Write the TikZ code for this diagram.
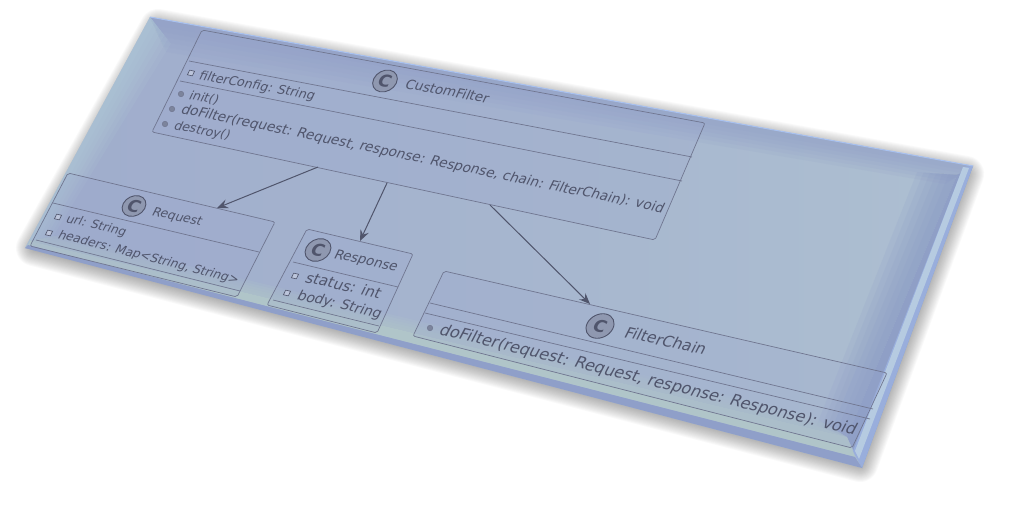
\documentclass[tikz,border=0pt]{standalone}
\usepackage{fontspec}
\setmainfont{DejaVu Sans}
\usetikzlibrary{
    arrows.meta,
    calc
}

\definecolor{faceLeft}{HTML}{9FACCC}
\definecolor{faceRight}{HTML}{ADBFD1}
\definecolor{bevelTop}{HTML}{909EC8}
\definecolor{bevelLeft}{HTML}{B8D6DE}
\definecolor{bevelRight}{HTML}{8595C3}
\definecolor{bevelBlue}{HTML}{8F9FC9}
\definecolor{bevelPale}{HTML}{B0C5C9}
\definecolor{stripLight}{HTML}{B6CBE1}
\definecolor{edgeLight}{HTML}{A9C2F0}
\definecolor{boxTint}{HTML}{98A4CE}
\definecolor{umlLine}{HTML}{707690}
\definecolor{umlInk}{HTML}{50556C}
\definecolor{umlMark}{HTML}{8F98B0}

\tikzset{
    classbox/.style={draw=umlLine, line width=0.7pt, rounded corners=2pt, fill=boxTint, fill opacity=0.2},
    divider/.style={draw=umlLine, line width=0.7pt},
    depends/.style={draw=umlInk, line width=1pt, -{Stealth[length=11pt, width=9pt, inset=4pt]}},
    umltext/.style 2 args={anchor=base west, inner sep=0pt, rotate=-#1, xslant=0.25, text=umlInk,
        font=\fontsize{#2}{#2}\selectfont},
    classmark/.style 2 args={circle, draw=umlInk, line width=0.9pt, fill=umlMark, inner sep=0pt,
        minimum size=#2, rotate=-#1, xslant=0.25, text=umlInk, font=\bfseries\fontsize{17}{17}\selectfont},
    attrmark/.style={rectangle, draw=umlInk, line width=0.6pt, fill=faceLeft!70!white, inner sep=0pt,
        minimum size=5pt, rotate=-12, xslant=0.25},
    methodmark/.style={circle, draw=umlLine, line width=0.5pt, fill=umlMark!70!umlInk, inner sep=0pt, minimum size=5.5pt}
}

\begin{document}
\begin{tikzpicture}[x=1pt,y=-1pt]
\useasboundingbox (0,0) rectangle (1009,505);

% Plate corners
\coordinate (plateTL) at (150,17);
\coordinate (plateTR) at (973,166);
\coordinate (plateBR) at (862,468);
\coordinate (plateBL) at (25,248);

% Soft shadow
\foreach \w in {2,4,...,36}
    \draw[black!85, opacity=0.026, line width=\w pt, line join=round, fill]
        (158,27) -- (966,174) -- (860,464) -- (34,248) -- cycle;

% Plate face
\shade[left color=faceLeft, right color=faceRight]
    (plateTL) -- (plateTR) -- (plateBR) -- (plateBL) -- cycle;

% Top bevel
\coordinate (topA) at (166,52);
\coordinate (topB) at (945,184);
\foreach \t in {0.25,0.4,...,1}
    \fill[bevelTop, opacity=0.13]
        (plateTL) -- (plateTR) -- ($(plateTR)!\t!(topB)$) -- ($(plateTL)!\t!(topA)$) -- cycle;

% Left bevel
\coordinate (leftA) at (172,45);
\coordinate (leftB) at (52,240);
\foreach \t in {0.2,0.35,...,1}
    \fill[bevelLeft, opacity=0.1]
        (plateTL) -- (plateBL) -- ($(plateBL)!\t!(leftB)$) -- ($(plateTL)!\t!(leftA)$) -- cycle;

% Right bevel
\coordinate (rightA) at (915,172);
\coordinate (rightB) at (815,425);
\coordinate (rightC) at (957,175);
\coordinate (rightD) at (847,437);
\foreach \t in {0.2,0.35,...,1}
    \fill[bevelRight, opacity=0.13]
        (rightC) -- (rightD) -- ($(rightD)!\t!(rightB)$) -- ($(rightC)!\t!(rightA)$) -- cycle;
\fill[bevelRight!75!faceRight] (rightC) -- (plateTR) -- (plateBR) -- (rightD) -- cycle;
\fill[edgeLight!55!bevelRight] (963,167) -- (973,166) -- (862,468) -- (853,451) -- cycle;
\fill[stripLight] (963,167) -- (969,168) -- (859,459) -- (855,451) -- cycle;

% Bottom bevel
\coordinate (bottomA) at (30,241);
\coordinate (bottomB) at (847,437);
\foreach \t in {0.2,0.4,...,1}
    \fill[bevelPale, opacity=0.2]
        (bottomA) -- (bottomB) -- ($(bottomB)!\t!(810,415)$) -- ($(bottomA)!\t!(60,235)$) -- cycle;
\fill[bevelPale] (bottomA) -- (bottomB) -- (855,457) -- (28,245) -- cycle;
\fill[bevelBlue] (28,245) -- (855,457) -- (plateBR) -- (plateBL) -- cycle;
\draw[edgeLight, line width=1pt] (plateTL) -- (plateTR);

% CustomFilter
\draw[classbox] (202,30) -- (705,123) -- (655,240) -- (152,132) -- cycle;
\draw[divider] (189,61) -- (692,157);
\draw[divider] (180,81) -- (682,181);
\node[classmark={11}{23pt}] (customMark) at (385,81) {C};
\node[umltext={10.5}{13.3}] (customName) at (404,88) {CustomFilter};
\node[attrmark] (filterConfigMark) at (191,73) {};
\node[umltext={10.5}{12.6}] (filterConfig) at (198,79) {filterConfig: String};
\node[methodmark] (initMark) at (181,94) {};
\node[umltext={11}{12.4}] (initName) at (188,99) {init()};
\node[methodmark] (doFilterMark) at (172,109) {};
\node[umltext={11.7}{13.6}] (doFilterName) at (180,113) {doFilter(request: Request, response: Response, chain: FilterChain): void};
\node[methodmark] (destroyMark) at (165,124) {};
\node[umltext={11}{12.4}] (destroyName) at (173,129) {destroy()};

% Request
\draw[classbox] (68,173) -- (275,222) -- (237,297) -- (30,246) -- cycle;
\draw[divider] (53,203) -- (259,252);
\draw[divider] (36,240) -- (240,291);
\node[classmark={13}{22pt}] (requestMark) at (134,206) {C};
\node[umltext={12.5}{12.3}] (requestName) at (151,215) {Request};
\node[attrmark] (urlMark) at (58,217) {};
\node[umltext={13.3}{12}] (urlField) at (65,222) {url: String};
\node[attrmark] (headersMark) at (49,233) {};
\node[umltext={14.3}{12.2}] (headersField) at (57,238) {headers: Map<String, String>};

% Response
\draw[classbox] (307,229) -- (413,254) -- (377,333) -- (267,305) -- cycle;
\draw[divider] (293,262) -- (398,287);
\draw[divider] (273,300) -- (379,326);
\node[classmark={12}{24pt}] (responseMark) at (318,250) {C};
\node[umltext={12}{13.3}] (responseName) at (333,258) {Response};
\node[attrmark] (statusMark) at (295,276) {};
\node[umltext={12.5}{14.8}] (statusField) at (304,282) {status: int};
\node[attrmark] (bodyMark) at (287,293) {};
\node[umltext={13}{13.9}] (bodyField) at (296,299) {body: String};

% FilterChain
\draw[classbox] (444,271) -- (887,373) -- (852,448) -- (413,336) -- cycle;
\draw[divider] (430,303) -- (873,409);
\draw[divider] (425,313) -- (870,419);
\node[classmark={13}{26pt}] (chainMark) at (600,326) {C};
\node[umltext={12.7}{15.4}] (chainName) at (623,337) {FilterChain};
\node[methodmark] (chainMethodMark) at (430,328) {};
\node[umltext={13.7}{16}] (chainMethod) at (438,334) {doFilter(request: Request, response: Response): void};

% Dependencies
\coordinate (customOutA) at (318,167);
\coordinate (customOutB) at (387,183);
\coordinate (customOutC) at (490,205);
\coordinate (requestIn) at (217,208);
\coordinate (responseIn) at (360,241);
\coordinate (chainIn) at (590,304);
\draw[depends] (customOutA) -- (requestIn);
\draw[depends] (customOutB) -- (responseIn);
\draw[depends] (customOutC) -- (chainIn);

\end{tikzpicture}
\end{document}
